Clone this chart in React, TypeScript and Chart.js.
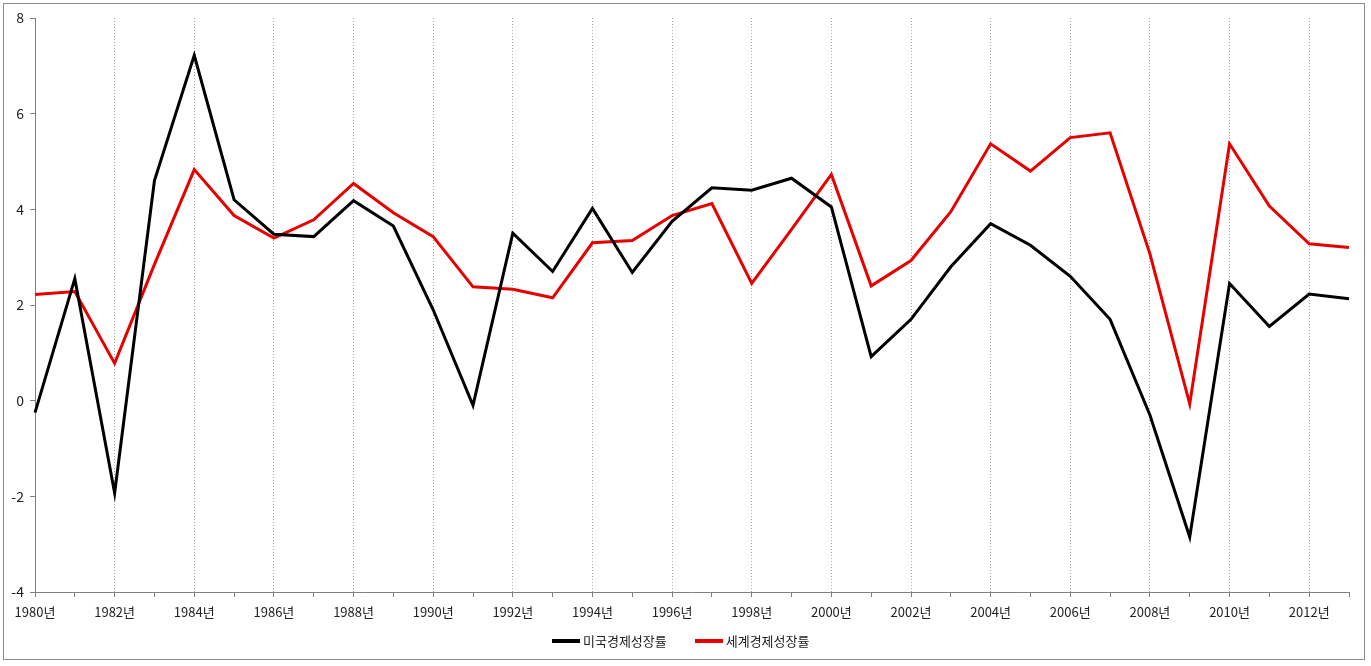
import React, { useEffect, useRef } from 'react';
import { Chart, registerables } from 'chart.js';

Chart.register(...registerables);

const years: string[] = [
    '1980년', '1981년', '1982년', '1983년', '1984년', '1985년', '1986년', '1987년', '1988년', '1989년',
    '1990년', '1991년', '1992년', '1993년', '1994년', '1995년', '1996년', '1997년', '1998년', '1999년',
    '2000년', '2001년', '2002년', '2003년', '2004년', '2005년', '2006년', '2007년', '2008년', '2009년',
    '2010년', '2011년', '2012년', '2013년',
];

// 미국 경제성장률 (%)
const usGrowth: number[] = [
    -0.25, 2.55, -1.93, 4.6, 7.22, 4.2, 3.48, 3.43, 4.18, 3.65,
    1.9, -0.1, 3.5, 2.7, 4.02, 2.68, 3.75, 4.45, 4.4, 4.65,
    4.05, 0.92, 1.7, 2.8, 3.7, 3.25, 2.6, 1.7, -0.3, -2.85,
    2.45, 1.55, 2.23, 2.13,
];

// 세계 경제성장률 (%)
const worldGrowth: number[] = [
    2.22, 2.28, 0.78, 2.85, 4.83, 3.87, 3.4, 3.78, 4.54, 3.93,
    3.43, 2.38, 2.33, 2.15, 3.3, 3.35, 3.87, 4.12, 2.45, 3.58,
    4.73, 2.4, 2.93, 3.95, 5.37, 4.8, 5.5, 5.6, 3.07, -0.07,
    5.37, 4.07, 3.28, 3.2,
];

const seriesNames: string[] = ['미국경제성장률', '세계경제성장률'];
const seriesColors: string[] = ['#000000', '#e60000'];

const FONT = "'Noto Sans CJK KR', 'Noto Sans', sans-serif";

const GrowthChart: React.FC = () => {
    const chartRef = useRef<HTMLCanvasElement>(null);
    const chartInstance = useRef<Chart | null>(null);

    useEffect(() => {
        if (!chartRef.current) return;
        const ctx = chartRef.current.getContext('2d');
        if (!ctx) return;

        chartInstance.current = new Chart(ctx, {
            type: 'line',
            data: {
                labels: years,
                datasets: [
                    {
                        label: seriesNames[0],
                        data: usGrowth,
                        borderColor: seriesColors[0],
                        borderWidth: 3,
                        pointRadius: 0,
                        tension: 0,
                    },
                    {
                        label: seriesNames[1],
                        data: worldGrowth,
                        borderColor: seriesColors[1],
                        borderWidth: 3,
                        pointRadius: 0,
                        tension: 0,
                    },
                ],
            },
            options: {
                animation: false,
                responsive: true,
                maintainAspectRatio: false,
                layout: { padding: { top: 18, right: 22, left: 0, bottom: 42 } },
                scales: {
                    x: {
                        offset: false,
                        grid: {
                            color: (c) => (c.index > 0 && c.index % 2 === 0 ? '#a8a8a8' : 'rgba(0,0,0,0)'),
                            tickColor: '#808080',
                            tickLength: 5,
                            lineWidth: 1,
                        },
                        border: { color: '#808080', width: 1, dash: [1, 2] },
                        ticks: {
                            autoSkip: false,
                            maxRotation: 0,
                            padding: 7,
                            color: '#222',
                            font: { family: FONT, size: 13 },
                            callback: (_v, i) => (i % 2 === 0 ? years[i] : ''),
                        },
                        afterFit: (scale) => {
                            scale.height = 32;
                        },
                    },
                    y: {
                        min: -4,
                        max: 8,
                        ticks: {
                            stepSize: 2,
                            padding: 6,
                            color: '#222',
                            font: { family: FONT, size: 14 },
                        },
                        grid: {
                            drawOnChartArea: false,
                            tickColor: '#808080',
                            tickLength: 5,
                        },
                        border: { color: '#808080', width: 1 },
                        afterFit: (scale) => {
                            scale.width = 35;
                        },
                    },
                },
                plugins: {
                    legend: { display: false },
                    tooltip: { enabled: false },
                },
            },
        });

        return () => {
            chartInstance.current?.destroy();
            chartInstance.current = null;
        };
    }, []);

    return <canvas ref={chartRef}></canvas>;
};

const App: React.FC = () => (
    <div style={{ position: 'fixed', left: 0, top: 0, width: 1371, height: 666, background: '#fff' }}>
        <div
            style={{
                position: 'absolute',
                left: 3,
                top: 3,
                width: 1362,
                height: 657,
                border: '1px solid #8c8c8c',
                boxSizing: 'border-box',
            }}
        />
        <div style={{ position: 'absolute', left: 0, top: 0, width: 1371, height: 666 }}>
            <GrowthChart />
        </div>
        <div
            style={{
                position: 'absolute',
                left: 552,
                top: 631,
                display: 'flex',
                alignItems: 'center',
                gap: 28,
                fontFamily: FONT,
                fontSize: 13,
                color: '#222',
                lineHeight: '20px',
            }}
        >
            {seriesNames.map((name, i) => (
                <div key={name} style={{ display: 'flex', alignItems: 'center' }}>
                    <span style={{ display: 'inline-block', width: 28, height: 4, background: seriesColors[i], marginRight: 3 }} />
                    <span>{name}</span>
                </div>
            ))}
        </div>
    </div>
);

export default App;
